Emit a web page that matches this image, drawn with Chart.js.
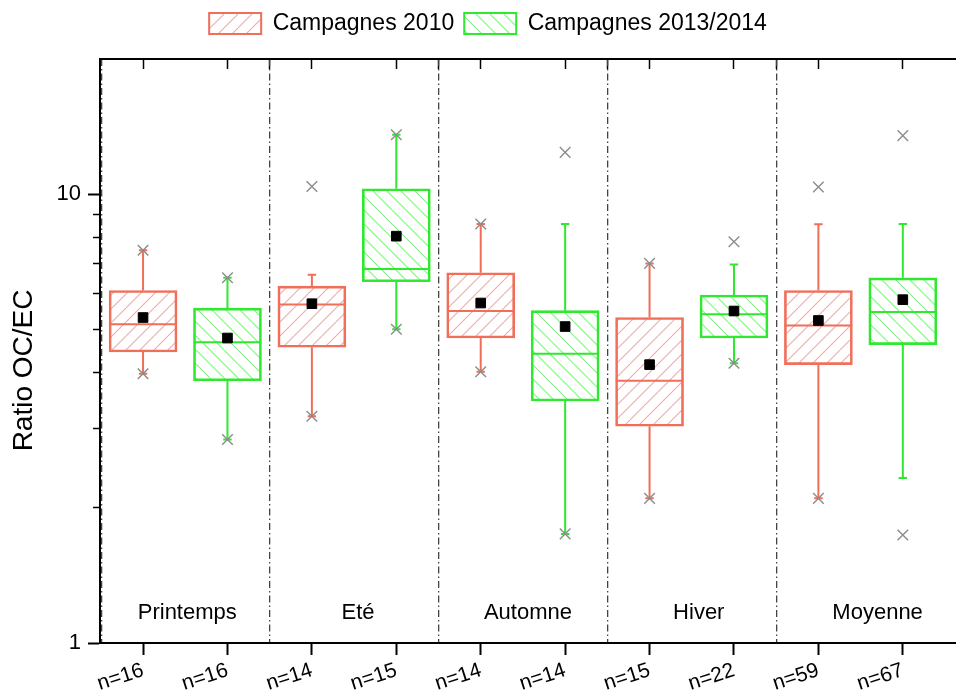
<!DOCTYPE html>
<html><head><meta charset="utf-8">
<script src="https://cdn.jsdelivr.net/npm/chart.js@4/dist/chart.umd.min.js"></script>
<style>html,body{margin:0;padding:0;background:#fff;overflow:hidden}#wrap{width:956px;height:698px;position:relative}</style>
</head><body><div id="wrap"><canvas id="c"></canvas></div>
<script>
// ---------- data ----------
const categories = ['n=16','n=16','n=14','n=15','n=14','n=14','n=15','n=22','n=59','n=67'];
const seasons = ['Printemps','Eté','Automne','Hiver','Moyenne'];
const seriesNames = ['Campagnes 2010','Campagnes 2013/2014'];
// Campagnes 2010 (Printemps, Eté, Automne, Hiver, Moyenne)
const q1_2010 = [4.45, 4.56, 4.78, 3.04, 4.17];
const median_2010 = [5.13, 5.68, 5.49, 3.84, 5.10];
const q3_2010 = [6.10, 6.24, 6.68, 5.31, 6.10];
const whiskerLow_2010 = [3.98, 3.20, 4.02, 2.10, 2.10];
const whiskerHigh_2010 = [7.50, 6.61, 8.58, 7.01, 8.57];
const mean_2010 = [5.31, 5.70, 5.72, 4.17, 5.23];
const min_2010 = [3.98, 3.20, 4.02, 2.10, 2.10];
const max_2010 = [7.50, 10.40, 8.58, 7.01, 10.37];
// Campagnes 2013/2014
const q1_2013 = [3.84, 6.38, 3.46, 4.78, 4.62];
const median_2013 = [4.68, 6.81, 4.41, 5.40, 5.46];
const q3_2013 = [5.57, 10.28, 5.50, 5.96, 6.51];
const whiskerLow_2013 = [2.84, 5.00, 1.75, 4.20, 2.33];
const whiskerHigh_2013 = [6.51, 13.56, 8.58, 6.97, 8.58];
const mean_2013 = [4.78, 8.06, 5.07, 5.49, 5.82];
const min_2013 = [2.84, 5.00, 1.75, 4.20, 1.74];
const max_2013 = [6.51, 13.56, 12.39, 7.83, 13.50];
// axis ticks
const yTickValues = [1, 10];
const yTickLabels = ['1', '10'];
const yMinorTicks = [2, 3, 4, 5, 6, 7, 8, 9];

// ---------- styling ----------
const RED = '#F06E5A', GREEN = '#2FE82F';
const FONT = "'Liberation Sans', Arial, sans-serif";
function hatch(color, dir) {
  const s = 14, c = document.createElement('canvas');
  c.width = s; c.height = s;
  const g = c.getContext('2d');
  g.strokeStyle = color; g.lineWidth = 1.1; g.beginPath();
  for (let k = -1; k <= 1; k++) {
    if (dir > 0) { g.moveTo(k * s, s); g.lineTo(k * s + s, 0); }
    else { g.moveTo(k * s, 0); g.lineTo(k * s + s, s); }
  }
  g.stroke();
  return g.createPattern(c, 'repeat');
}
const series = [
  {name: seriesNames[0], color: RED, fill: hatch('rgba(240,110,90,0.6)', 1), k: 1,
   q1: q1_2010, med: median_2010, q3: q3_2010, wl: whiskerLow_2010, wh: whiskerHigh_2010, mean: mean_2010, mn: min_2010, mx: max_2010},
  {name: seriesNames[1], color: GREEN, fill: hatch('rgba(47,232,47,0.6)', -1), k: 2,
   q1: q1_2013, med: median_2013, q3: q3_2013, wl: whiskerLow_2013, wh: whiskerHigh_2013, mean: mean_2013, mn: min_2013, mx: max_2013}
];
const HALF = 0.4, CAP = 0.05;
const datasets = [];
series.forEach(s => {
  datasets.push({type: 'bar', label: s.name, data: seasons.map((_, i) => ({x: 2 * i + s.k, y: [s.q1[i], s.q3[i]]})),
    backgroundColor: s.fill, borderColor: s.color, borderWidth: 2, borderSkipped: false,
    barThickness: 68, grouped: false, order: 10, xAxisID: 'x', yAxisID: 'y'});
});
series.forEach(s => {
  const med = [], wh = [];
  seasons.forEach((_, i) => {
    const x = 2 * i + s.k;
    med.push({x: x - HALF, y: s.med[i]}, {x: x + HALF, y: s.med[i]}, {x: x, y: null});
    wh.push({x: x, y: s.q3[i]}, {x: x, y: s.wh[i]}, {x: x, y: null});
    wh.push({x: x, y: s.q1[i]}, {x: x, y: s.wl[i]}, {x: x, y: null});
    wh.push({x: x - CAP, y: s.wh[i]}, {x: x + CAP, y: s.wh[i]}, {x: x, y: null});
    wh.push({x: x - CAP, y: s.wl[i]}, {x: x + CAP, y: s.wl[i]}, {x: x, y: null});
  });
  datasets.push({type: 'scatter', label: '', data: med, showLine: true, spanGaps: false, borderColor: s.color, borderWidth: 2, pointRadius: 0, order: 6});
  datasets.push({type: 'scatter', label: '', data: wh, showLine: true, spanGaps: false, borderColor: s.color, borderWidth: 2, pointRadius: 0, order: 7});
});
series.forEach(s => {
  const pts = [];
  seasons.forEach((_, i) => { const x = 2 * i + s.k; pts.push({x, y: s.mn[i]}, {x, y: s.mx[i]}); });
  datasets.push({type: 'scatter', label: '', data: pts, pointStyle: 'crossRot', pointRadius: 7.5, borderColor: '#8c8c8c', borderWidth: 1.4, backgroundColor: 'transparent', order: 3});
});
series.forEach(s => {
  datasets.push({type: 'scatter', label: '', data: seasons.map((_, i) => ({x: 2 * i + s.k, y: s.mean[i]})),
    pointStyle: 'rect', pointRadius: 6.8, backgroundColor: '#000', borderColor: '#000', borderWidth: 1, order: 1});
});

const XMIN = 0.49, XMAX = 10.63;
const seasonOffsets = [2, 4, 5, 7, 17];
const seasonLabels = {
  id: 'seasonLabels',
  afterLayout(chart) {
    const lg = chart.legend;
    if (lg) { lg.left += 10; lg.right += 10; lg.top += 2; lg.bottom += 2; }
  },
  afterDatasetsDraw(chart) {
    const {ctx, chartArea, scales: {x}} = chart;
    ctx.save();
    ctx.font = '22px ' + FONT; ctx.fillStyle = '#000'; ctx.textAlign = 'center'; ctx.textBaseline = 'middle';
    seasons.forEach((t, i) => ctx.fillText(t, x.getPixelForValue(2 * i + 1.5) + seasonOffsets[i], chartArea.bottom - 30));
    ctx.restore();
  }
};
const noPad = sc => { sc.paddingLeft = 0; sc.paddingRight = 0; };

new Chart(document.getElementById('c'), {
  data: {datasets},
  options: {
    responsive: true, maintainAspectRatio: false, animation: false,
    layout: {padding: {left: 0, right: 0, top: 0, bottom: 0}, autoPadding: false},
    plugins: {
      tooltip: {enabled: false},
      legend: {position: 'top', labels: {filter: (it) => it.datasetIndex < 2, boxWidth: 52, boxHeight: 21, padding: 10,
        color: '#000', font: {size: 23, family: FONT}}}
    },
    scales: {
      x: {type: 'linear', position: 'bottom', min: XMIN, max: XMAX, offset: false,
        afterBuildTicks: sc => { sc.ticks = categories.map((_, i) => ({value: i + 1})); },
        ticks: {callback: (v, i) => categories[i], minRotation: 18, maxRotation: 18, autoSkip: false, color: '#000', padding: 3,
          font: {size: 21, family: FONT}},
        grid: {drawOnChartArea: false, offset: false, tickLength: 12, tickWidth: 2, tickColor: '#000'},
        border: {color: '#000', width: 2},
        afterFit: sc => { sc.height = 55; noPad(sc); }},
      xTop: {type: 'linear', position: 'top', min: XMIN, max: XMAX, offset: false,
        afterBuildTicks: sc => { const t = []; categories.forEach((_, i) => t.push({value: i + 1})); [2.5, 4.5, 6.5, 8.5].forEach(v => t.push({value: v})); sc.ticks = t; },
        ticks: {display: false},
        grid: {drawOnChartArea: false, offset: false, tickLength: -10, tickWidth: 1.5, tickColor: '#000'},
        border: {color: '#000', width: 2},
        afterFit: sc => { sc.height = 16; noPad(sc); }},
      xSep: {type: 'linear', position: 'bottom', min: XMIN, max: XMAX, weight: 5, offset: false,
        afterBuildTicks: sc => { sc.ticks = [0.515, 2.5, 4.5, 6.5, 8.5].map(v => ({value: v})); },
        ticks: {display: false},
        grid: {drawOnChartArea: true, offset: false, drawTicks: false, color: '#444', lineWidth: 1.3},
        border: {display: false, dash: [7, 3, 1.5, 3]},
        afterFit: sc => { sc.height = 0; noPad(sc); }},
      y: {type: 'logarithmic', position: 'left', min: 1, max: 20, weight: 1,
        afterBuildTicks: sc => { sc.ticks = yTickValues.map(v => ({value: v})); },
        ticks: {callback: (v, i) => yTickLabels[i], color: '#000', padding: 7, font: {size: 22, family: FONT}},
        grid: {drawOnChartArea: false, tickLength: 12, tickWidth: 2, tickColor: '#000'},
        border: {color: '#000', width: 2},
        title: {display: true, text: 'Ratio OC/EC     ', color: '#000', font: {size: 28, family: FONT}, padding: {top: 7, bottom: 4}},
        afterFit: sc => { sc.width = 100; }},
      yMinor: {type: 'logarithmic', position: 'left', min: 1, max: 20, weight: 0,
        afterBuildTicks: sc => { sc.ticks = yMinorTicks.map(v => ({value: v})); },
        ticks: {display: false},
        grid: {drawOnChartArea: false, tickLength: 7, tickWidth: 1.5, tickColor: '#000'},
        border: {display: false},
        afterFit: sc => { sc.width = 0; }}
    }
  },
  plugins: [seasonLabels]
});
</script></body></html>
